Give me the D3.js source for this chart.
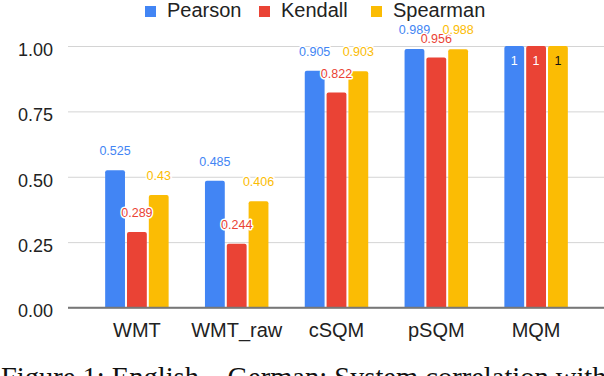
<!DOCTYPE html>
<html>
<head>
<meta charset="utf-8">
<script src="https://cdn.jsdelivr.net/npm/d3@7"></script>
<style>
    body { margin: 0; background: white; }
    svg { display: block; }
</style>
</head>
<body>
<svg id="chart"></svg>
<script>
var categories = ['WMT', 'WMT_raw', 'cSQM', 'pSQM', 'MQM'];
var seriesNames = ['Pearson', 'Kendall', 'Spearman'];
var pearson = [0.525, 0.485, 0.905, 0.989, 1];
var kendall = [0.289, 0.244, 0.822, 0.956, 1];
var spearman = [0.43, 0.406, 0.903, 0.988, 1];
var yTicks = [0, 0.25, 0.5, 0.75, 1];
var caption = 'Figure 1: English\u2192German: System correlation with';

var width = 604, height = 376;
var colors = d3.scaleOrdinal()
    .domain(seriesNames)
    .range(['#4285F4', '#EA4335', '#FBBC04']);

// one row per category
var rows = categories.map(function (c, i) {
    return {category: c, Pearson: pearson[i], Kendall: kendall[i], Spearman: spearman[i]};
});
// flat list of cells, used for bars and labels
var cellsData = [];
rows.forEach(function (r) {
    seriesNames.forEach(function (k) {
        cellsData.push({category: r.category, key: k, value: r[k]});
    });
});

var svg = d3.select("#chart")
    .attr("width", width)
    .attr("height", height);

var x = d3.scaleBand()
    .domain(categories)
    .range([87, 586])
    .paddingInner(0.364)
    .paddingOuter(0.182);
var xSub = d3.scaleBand()
    .domain(seriesNames)
    .range([0, x.bandwidth()])
    .paddingInner(0.092);
var y = d3.scaleLinear()
    .domain([0, 1])
    .range([307.5, 46]);

// gridlines + y labels
var yAxis = svg.append("g")
    .attr("transform", "translate(68,0)")
    .call(d3.axisLeft(y).tickValues(yTicks).tickFormat(d3.format(".2f")).tickSize(-(width - 68)).tickPadding(15));
yAxis.select(".domain").remove();
yAxis.selectAll(".tick line")
    .attr("stroke", function (d) { return d === 0 ? "#777" : "#d4d4d4"; })
    .attr("stroke-width", function (d) { return d === 0 ? 1.3 : 1; });
yAxis.selectAll(".tick text")
    .attr("dy", 9.3)
    .style("font-family", "'Liberation Sans', Arial, sans-serif")
    .style("font-size", "18px")
    .style("fill", "#222");

// top-rounded bar path
function barPath(x0, y0, w, h) {
    var r = Math.min(2, h);
    return "M" + x0 + "," + (y0 + h) +
        "V" + (y0 + r) + "Q" + x0 + "," + y0 + " " + (x0 + r) + "," + y0 +
        "H" + (x0 + w - r) + "Q" + (x0 + w) + "," + y0 + " " + (x0 + w) + "," + (y0 + r) +
        "V" + (y0 + h) + "Z";
}

function cellX(d) { return x(d.category) + xSub(d.key); }

svg.append("g")
    .selectAll("path")
    .data(cellsData)
    .enter().append("path")
    .attr("d", function (d) {
        return barPath(cellX(d), y(d.value), xSub.bandwidth(), y(0) - y(d.value));
    })
    .attr("fill", function (d) { return colors(d.key); });

// baseline on top of bars
svg.append("line")
    .attr("x1", 68).attr("x2", width)
    .attr("y1", y(0)).attr("y2", y(0))
    .attr("stroke", "#777")
    .attr("stroke-width", 1.3);

// value labels drawn after all bars: above the bar, inside when the bar hits the top
svg.append("g")
    .selectAll("text")
    .data(cellsData)
    .enter().append("text")
    .attr("x", function (d) { return cellX(d) + xSub.bandwidth() / 2; })
    .attr("y", function (d) { return d.value >= 1 ? y(d.value) + 19 : y(d.value) - 15; })
    .attr("text-anchor", "middle")
    .style("font-family", "'Liberation Sans', Arial, sans-serif")
    .style("font-size", "12.5px")
    .style("paint-order", "stroke")
    .style("stroke", function (d) { return d.value >= 1 ? "none" : "white"; })
    .style("stroke-width", 3)
    .style("stroke-linejoin", "round")
    .style("fill", function (d) {
        if (d.value >= 1) return d.key === 'Spearman' ? "#111" : "white";
        return colors(d.key);
    })
    .text(function (d) { return d3.format("")(d.value); });

// category labels
svg.append("g")
    .selectAll("text")
    .data(categories)
    .enter().append("text")
    .attr("x", function (d) { return x(d) + x.bandwidth() / 2; })
    .attr("y", 337)
    .attr("text-anchor", "middle")
    .style("font-family", "'Liberation Sans', Arial, sans-serif")
    .style("font-size", "20px")
    .style("fill", "#222")
    .text(function (d) { return d; });

// legend
var legendX = [145, 259, 371];
var legend = svg.append("g")
    .selectAll("g")
    .data(seriesNames)
    .enter().append("g")
    .attr("transform", function (d, i) { return "translate(" + legendX[i] + ",0)"; });
legend.append("rect")
    .attr("x", 0).attr("y", 6)
    .attr("width", 11).attr("height", 11)
    .attr("fill", function (d) { return colors(d); });
legend.append("text")
    .attr("x", 22).attr("y", 17)
    .style("font-family", "'Liberation Sans', Arial, sans-serif")
    .style("font-size", "20px")
    .style("fill", "#222")
    .text(function (d) { return d; });

// caption (cut off at bottom in the source)
svg.append("text")
    .attr("x", 1)
    .attr("y", 386.5)
    .style("font-family", "'Liberation Serif', 'Times New Roman', serif")
    .style("font-size", "28.5px")
    .style("fill", "#111")
    .text(caption);
</script>
</body>
</html>
